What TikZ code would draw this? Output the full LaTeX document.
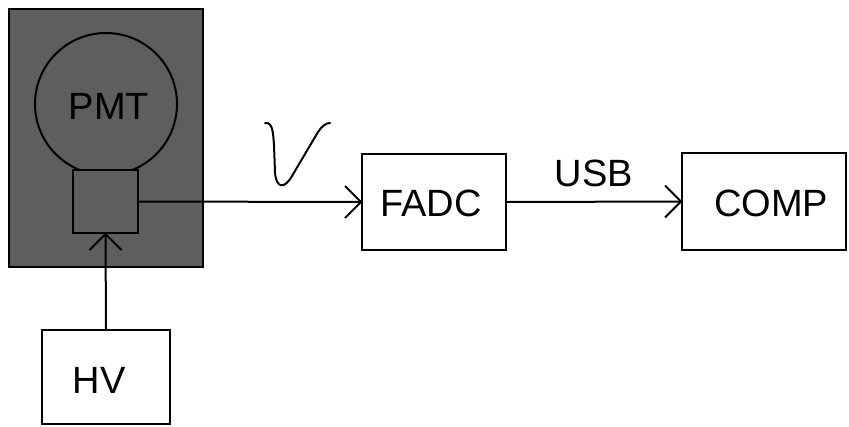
\documentclass[tikz,border=0pt]{standalone}
\usepackage{fontspec}
\setmainfont{Liberation Sans}
\definecolor{shield}{gray}{0.37}
\begin{document}
\begin{tikzpicture}[x=1pt,y=-1pt,
  ln/.style={line width=2pt},
  boxn/.style={draw,ln,inner sep=0pt,font=\fontsize{38}{40}\selectfont},
  lbl/.style={font=\fontsize{38}{40}\selectfont,inner sep=0pt}]
\useasboundingbox (0,0) rectangle (849,426);
\node[boxn,fill=shield,minimum width=194pt,minimum height=258pt] (shield) at (106,138) {};
\node[draw,ln,circle,minimum size=142pt,inner sep=0pt] (bulb) at (106,104) {};
\node[lbl] (pmt) at (109,106) {PMT};
\node[boxn,fill=shield,minimum width=65pt,minimum height=63pt] (base) at (105.5,201.5) {};
\node[boxn,minimum width=144pt,minimum height=96pt] (fadc) at (434,202) {};
\node[lbl] (fadctext) at (431,203) {FADC};
\node[boxn,minimum width=164pt,minimum height=97pt] (comp) at (764,201.5) {};
\node[lbl] (comptext) at (771,203) {COMP};
\node[boxn,minimum width=128pt,minimum height=94pt] (hv) at (106,377) {};
\node[lbl] (hvtext) at (99,380) {HV};
\node[lbl] (usb) at (594,173) {USB};
\draw[ln] (base.east) -- (fadc.west);
\draw[ln,line join=miter] (fadc.west) ++(-16,-16) -- (fadc.west) -- ++(-16,16);
\draw[ln] (fadc.east) -- (comp.west);
\draw[ln,line join=miter] (comp.west) ++(-16,-16) -- (comp.west) -- ++(-16,16);
\draw[ln] (hv.north) -- (base.south);
\draw[ln,line join=miter] (base.south) ++(-16,16) -- (base.south) -- ++(16,16);
\draw[ln,line cap=round] (265,123) .. controls (272,122) and (273,130) .. (274,145) -- (275,172)
  .. controls (276,188) and (284,190) .. (292,176) -- (318,132)
  .. controls (322,126) and (326,123) .. (330,123);
\end{tikzpicture}
\end{document}
